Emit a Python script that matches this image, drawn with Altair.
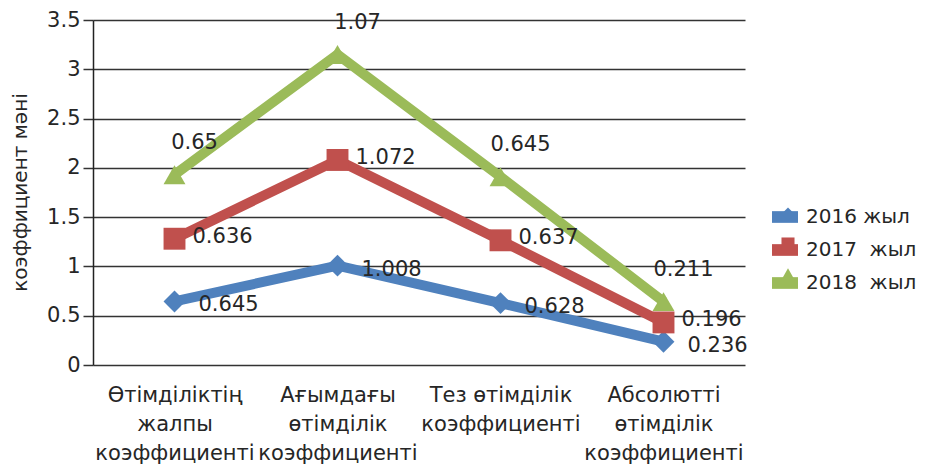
import altair as alt
import pandas as pd

categories = [
    "Өтімділіктің\nжалпы\nкоэффициенті",
    "Ағымдағы\nөтімділік\nкоэффициенті",
    "Тез өтімділік\nкоэффициенті",
    "Абсолютті\nөтімділік\nкоэффициенті",
]
series_names = ["2016 жыл", "2017\u00a0 жыл", "2018\u00a0 жыл"]
s2016 = [0.645, 1.008, 0.628, 0.236]
s2017 = [0.636, 1.072, 0.637, 0.196]
s2018 = [0.65, 1.07, 0.645, 0.211]
colors = ["#4F81BD", "#C0504D", "#9BBB59"]
shapes = ["diamond", "square", "triangle-up"]
y_ticks = [0, 0.5, 1, 1.5, 2, 2.5, 3, 3.5]

rows = []
for sname, vals in zip(series_names, [s2016, s2017, s2018]):
    for i, (c, v) in enumerate(zip(categories, vals)):
        rows.append({"series": sname, "s2": sname, "s3": sname, "cat": c, "order": i, "value": v})
df = pd.DataFrame(rows)
df["top"] = df.groupby("cat")["value"].cumsum()

FONT = "DejaVu Sans"
FS = 21
TXT = "#262626"

x_enc = alt.X(
    "cat:N",
    sort=categories,
    scale=alt.Scale(type="point", padding=0.5),
    axis=alt.Axis(
        title=None,
        labelExpr="split(datum.value, '\\n')",
        labelAngle=0,
        labelFont=FONT,
        labelFontSize=FS,
        labelColor=TXT,
        labelPadding=19,
        labelLineHeight=29,
        labelBaseline="top",
        labelOverlap=False,
        labelBound=False,
        labelLimit=0,
        ticks=False,
        domain=False,
        grid=False,
    ),
)
y_enc = alt.Y(
    "top:Q",
    scale=alt.Scale(domain=[0, 3.5], nice=False),
    axis=alt.Axis(
        title="коэффициент мәні",
        titleFont=FONT,
        titleFontSize=20,
        titleFontWeight="normal",
        titleColor=TXT,
        titleX=-73,
        titleY=172,
        titleAngle=270,
        titleAlign="center",
        titleBaseline="middle",
        values=y_ticks,
        labelExpr="datum.value",
        labelFont=FONT,
        labelFontSize=FS,
        labelColor=TXT,
        labelPadding=3,
        tickSize=10,
        tickColor="#333333",
        tickWidth=1.5,
        domainColor="#222222",
        domainWidth=1.5,
        grid=True,
        gridColor="#333333",
        gridWidth=1.5,
    ),
)

LEG_X = 679
LEG_Y = 184
rect_legend = alt.Legend(
    title=None,
    orient="none",
    legendX=LEG_X,
    legendY=LEG_Y,
    symbolType="M-1,-0.45L1,-0.45L1,0.45L-1,0.45Z",
    symbolSize=676,
    symbolStrokeWidth=0,
    symbolOpacity=1,
    labelFont=FONT,
    labelFontSize=20,
    labelColor=TXT,
    labelOffset=8,
    rowPadding=10,
    padding=0,
)
pt_legend = alt.Legend(
    title=None,
    orient="none",
    legendX=LEG_X + 6,
    legendY=LEG_Y,
    symbolSize=170,
    symbolStrokeWidth=0,
    symbolOpacity=1,
    labelFont=FONT,
    labelFontSize=20,
    labelExpr="' '",
    labelOffset=8,
    rowPadding=10,
    padding=0,
)

base = alt.Chart(df)

lines = base.mark_line(strokeWidth=10).encode(
    x=x_enc,
    y=y_enc,
    color=alt.Color("series:N", scale=alt.Scale(domain=series_names, range=colors), legend=None),
    detail="series:N",
    order="order:Q",
)
legend_keys = base.mark_point(filled=True, size=1, opacity=0).encode(
    x=x_enc,
    y=y_enc,
    color=alt.Color("s3:N", sort=series_names, scale=alt.Scale(domain=series_names, range=colors), legend=rect_legend),
)
points = base.mark_point(filled=True, size=480, opacity=1).encode(
    x=x_enc,
    y=y_enc,
    color=alt.Color("s2:N", sort=series_names, scale=alt.Scale(domain=series_names, range=colors), legend=pt_legend),
    shape=alt.Shape("s2:N", sort=series_names, scale=alt.Scale(domain=series_names, range=shapes), legend=pt_legend),
)

label_offsets = [
    (series_names[0], "left", 24, 4),
    (series_names[1], "left", 18, -2),
    (series_names[2], "center", 20, -32),
]
texts = []
for sname, align, dx, dy in label_offsets:
    texts.append(
        base.transform_filter(alt.datum.series == sname)
        .mark_text(align=align, baseline="middle", dx=dx, dy=dy, font=FONT, fontSize=FS, color=TXT)
        .encode(x=x_enc, y=y_enc, text=alt.Text("value:Q", format=""))
    )

chart = (
    alt.layer(lines, legend_keys, points, *texts)
    .resolve_scale(color="independent", shape="independent")
    .resolve_legend(color="independent", shape="independent")
    .properties(
        width=652,
        height=345,
        autosize=alt.AutoSizeParams(type="none"),
        padding={"left": 85, "top": 12, "right": 174, "bottom": 100},
    )
    .configure_view(stroke=None)
)

chart.save("out.html", embed_options={"renderer": "svg", "actions": False})
